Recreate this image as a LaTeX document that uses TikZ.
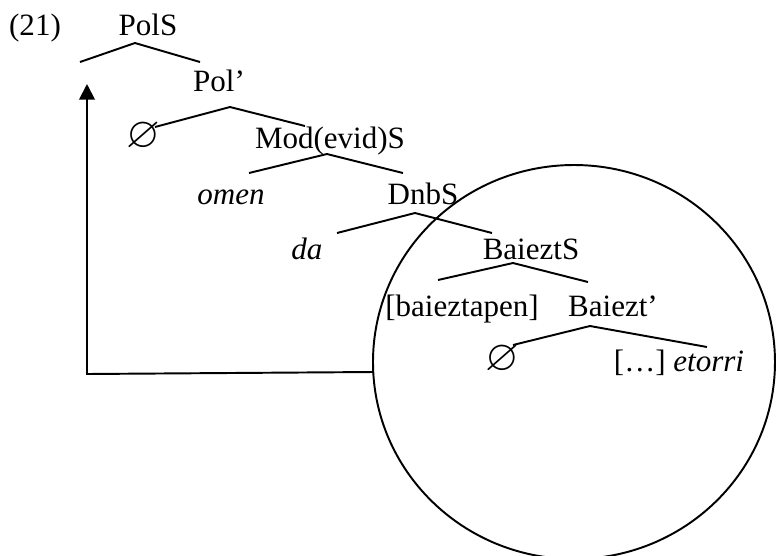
\documentclass[tikz,border=0pt]{standalone}
\usepackage{amssymb}
\usepackage{fontspec}
\setmainfont{Liberation Serif}
\usetikzlibrary{arrows.meta}
\tikzset{
  lbl/.style={anchor=base, inner sep=0pt, font=\fontsize{12}{14}\selectfont},
  branch/.style={line width=0.75pt},
}
\newcommand{\nul}{\scalebox{1.4}{$\varnothing$}}
\begin{document}
\begin{tikzpicture}[x=0.0136cm, y=-0.0136cm, >={Triangle[width=6pt,length=6pt]}]
      \useasboundingbox (0, 0) rectangle (776, 555);

      % labels
      \node[lbl] (ex)    at (35, 35)   {(21)};
      \node[lbl] (pols)  at (148, 35)  {PolS};
      \node[lbl] (polb)  at (219, 91)  {Pol'};
      \node[lbl] (nul1)  at (143, 147) {\nul};
      \node[lbl] (mods)  at (330, 148) {Mod(evid)S};
      \node[lbl] (omen)  at (231, 204) {\textit{omen}};
      \node[lbl] (dnbs)  at (423, 204) {DnbS};
      \node[lbl] (da)    at (307, 259) {\textit{da}};
      \node[lbl] (baizs) at (531, 259) {BaieztS};
      \node[lbl] (spec)  at (462, 316) {[baieztapen]};
      \node[lbl] (baizb) at (613, 316) {Baiezt'};
      \node[lbl] (nul2)  at (502, 370) {\nul};
      \node[lbl] (etor)  at (679, 371) {[\ldots] \textit{etorri}};

      % branch points
      \coordinate (p0) at (135, 43);  \coordinate (p0l) at (80, 62);   \coordinate (p0r) at (200, 62);
      \coordinate (p1) at (230, 107); \coordinate (p1l) at (155, 127); \coordinate (p1r) at (305, 126);
      \coordinate (p2) at (327, 154); \coordinate (p2l) at (249, 173); \coordinate (p2r) at (403, 173);
      \coordinate (p3) at (415, 213); \coordinate (p3l) at (337, 233); \coordinate (p3r) at (492, 233);
      \coordinate (p4) at (513, 263); \coordinate (p4l) at (438, 280); \coordinate (p4r) at (588, 282);
      \coordinate (p5) at (590, 326); \coordinate (p5l) at (513, 345); \coordinate (p5r) at (707, 347);

      \foreach \i in {0,...,5}
        \draw[branch] (p\i l) -- (p\i) -- (p\i r);

      % movement
      \coordinate (mvtop) at (87, 84);
      \coordinate (mvcorner) at (87, 374);
      \coordinate (mvend) at (373, 372);
      \draw[branch, ->] (mvend) -- (mvcorner) -- (mvtop);

      \draw[branch] (574, 362) ellipse [x radius=201, y radius=197];
    \end{tikzpicture}
\end{document}
